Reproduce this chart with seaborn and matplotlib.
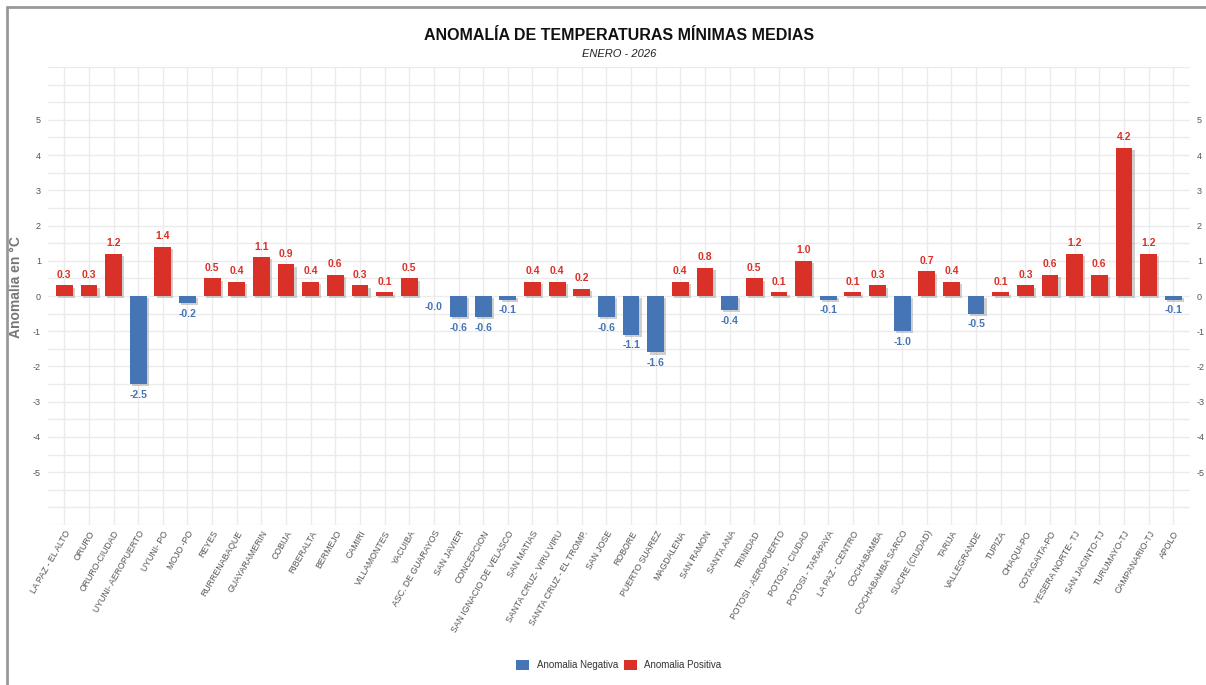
import matplotlib
matplotlib.use("Agg")
import matplotlib.pyplot as plt
import matplotlib.patheffects as pe
from matplotlib.lines import Line2D
from matplotlib.patches import Patch
from matplotlib.ticker import MultipleLocator
import seaborn as sns
import pandas as pd

# Estaciones y anomalías de temperatura mínima media (°C)
estaciones = [
    "LA PAZ - EL ALTO", "ORURO", "ORURO-CIUDAD", "UYUNI- AEROPUERTO", "UYUNI- PO",
    "MOJO -PO", "REYES", "RURRENABAQUE", "GUAYARAMERIN", "COBIJA", "RIBERALTA",
    "BERMEJO", "CAMIRI", "VILLAMONTES", "YACUIBA", "ASC. DE GUARAYOS", "SAN JAVIER",
    "CONCEPCION", "SAN IGNACIO DE VELASCO", "SAN MATIAS", "SANTA CRUZ- VIRU VIRU",
    "SANTA CRUZ - EL TROMP.", "SAN JOSE", "ROBORE", "PUERTO SUAREZ", "MAGDALENA",
    "SAN RAMON", "SANTA ANA", "TRINIDAD", "POTOSI - AEROPUERTO", "POTOSI - CIUDAD",
    "POTOSI - TARAPAYA", "LA PAZ - CENTRO", "COCHABAMBA", "COCHABAMBA SARCO",
    "SUCRE (CIUDAD)", "TARIJA", "VALLEGRANDE", "TUPIZA", "CHAQUI-PO", "COTAGAITA-PO",
    "YESERA NORTE- TJ", "SAN JACINTO-TJ", "TURUMAYO-TJ", "CAMPANARIO-TJ", "APOLO",
]
anomalias = [
    0.3, 0.3, 1.2, -2.5, 1.4, -0.2, 0.5, 0.4, 1.1, 0.9, 0.4,
    0.6, 0.3, 0.1, 0.5, -0.0, -0.6, -0.6, -0.1, 0.4, 0.4,
    0.2, -0.6, -1.1, -1.6, 0.4, 0.8, -0.4, 0.5, 0.1, 1.0,
    -0.1, 0.1, 0.3, -1.0, 0.7, 0.4, -0.5, 0.1, 0.3, 0.6,
    1.2, 0.6, 4.2, 1.2, -0.1,
]
etiquetas_y = [-5, -4, -3, -2, -1, 0, 1, 2, 3, 4, 5]
serie_neg = "Anomalia Negativa"
serie_pos = "Anomalia Positiva"

ROJO = "#D93027"
AZUL = "#4575B4"

sns.set_theme(style="white")
plt.rcParams["font.family"] = ["Liberation Sans", "DejaVu Sans"]
plt.rcParams["axes.unicode_minus"] = False

df = pd.DataFrame({
    "estacion": estaciones,
    "anomalia": anomalias,
    "tipo": [serie_pos if v > 0 else serie_neg for v in anomalias],
})

fig = plt.figure(figsize=(12.06, 6.85), dpi=100)
fig.patch.set_facecolor("white")
ax = fig.add_axes([48 / 1206, 1 - 525 / 685, (1190 - 48) / 1206, (525 - 67) / 685])

sns.barplot(
    data=df, x="estacion", y="anomalia", hue="tipo",
    palette={serie_neg: AZUL, serie_pos: ROJO}, saturation=1,
    hue_order=[serie_neg, serie_pos], dodge=False, width=0.68,
    edgecolor="none", linewidth=0, legend=False, ax=ax, zorder=3,
)

sombra = [pe.SimplePatchShadow(offset=(1.6, -1.6), shadow_rgbFace="#a0a0a0", alpha=0.5), pe.Normal()]
for barra in ax.patches:
    barra.set_path_effects(sombra)

# Etiquetas de valor encima / debajo de cada barra
for i, v in enumerate(anomalias):
    if v > 0:
        ax.annotate(f"{v:.1f}", (i, v), xytext=(0, 4), textcoords="offset points",
                    ha="center", va="bottom", fontsize=7.5, fontweight="bold", color=ROJO)
    else:
        ax.annotate(f"{v:.1f}", (i, v), xytext=(0, -4), textcoords="offset points",
                    ha="center", va="top", fontsize=7.5, fontweight="bold", color=AZUL)

ax.set_ylim(-6.5, 6.5)
ax.set_xlim(-0.66, len(estaciones) - 1 + 0.68)
ax.set_yticks(etiquetas_y)
ax.yaxis.set_minor_locator(MultipleLocator(0.5))
ax.grid(True, which="both", axis="y", color="#ebebeb", linewidth=1, zorder=0)
ax.grid(True, which="major", axis="x", color="#ebebeb", linewidth=1, zorder=0)
ax.set_axisbelow(True)
for s in ax.spines.values():
    s.set_visible(False)

ax.tick_params(axis="y", which="both", length=0, labelsize=6.5, labelcolor="#555555",
               labelright=True, pad=5)
ax.tick_params(axis="x", length=0, labelsize=6.3, labelcolor="#555555", pad=3)
plt.setp(ax.get_xticklabels(), rotation=60, ha="right", rotation_mode="anchor")
ax.set_xlabel("")
ax.set_ylabel("Anomalia en °C", fontsize=10, fontweight="bold", color="#777777")
ax.yaxis.set_label_coords((23 - 48) / 1142, 0.52)

fig.text(619 / 1206, 1 - 36 / 685, "ANOMALÍA DE TEMPERATURAS MÍNIMAS MEDIAS",
         ha="center", va="center", fontsize=11.5, fontweight="bold", color="#111111")
fig.text(619 / 1206, 1 - 54 / 685, "ENERO - 2026", ha="center", va="center",
         fontsize=8, fontstyle="italic", color="#222222")

handles = [Patch(facecolor=AZUL, edgecolor="none", label=serie_neg),
           Patch(facecolor=ROJO, edgecolor="none", label=serie_pos)]
fig.legend(handles=handles, loc="center", bbox_to_anchor=(619 / 1206, 1 - 665 / 685),
           ncol=2, frameon=False, fontsize=7, handlelength=1.3, handleheight=1.3,
           handletextpad=0.8, columnspacing=0.6, labelcolor="#333333")

# Marco del panel
fig.add_artist(Line2D([7 / 1206, 7 / 1206], [0, 1 - 7 / 685], color="#999999", linewidth=2))
fig.add_artist(Line2D([7 / 1206, 1], [1 - 7 / 685, 1 - 7 / 685], color="#999999", linewidth=2))

fig.savefig("out.png", dpi=100, facecolor="white")
